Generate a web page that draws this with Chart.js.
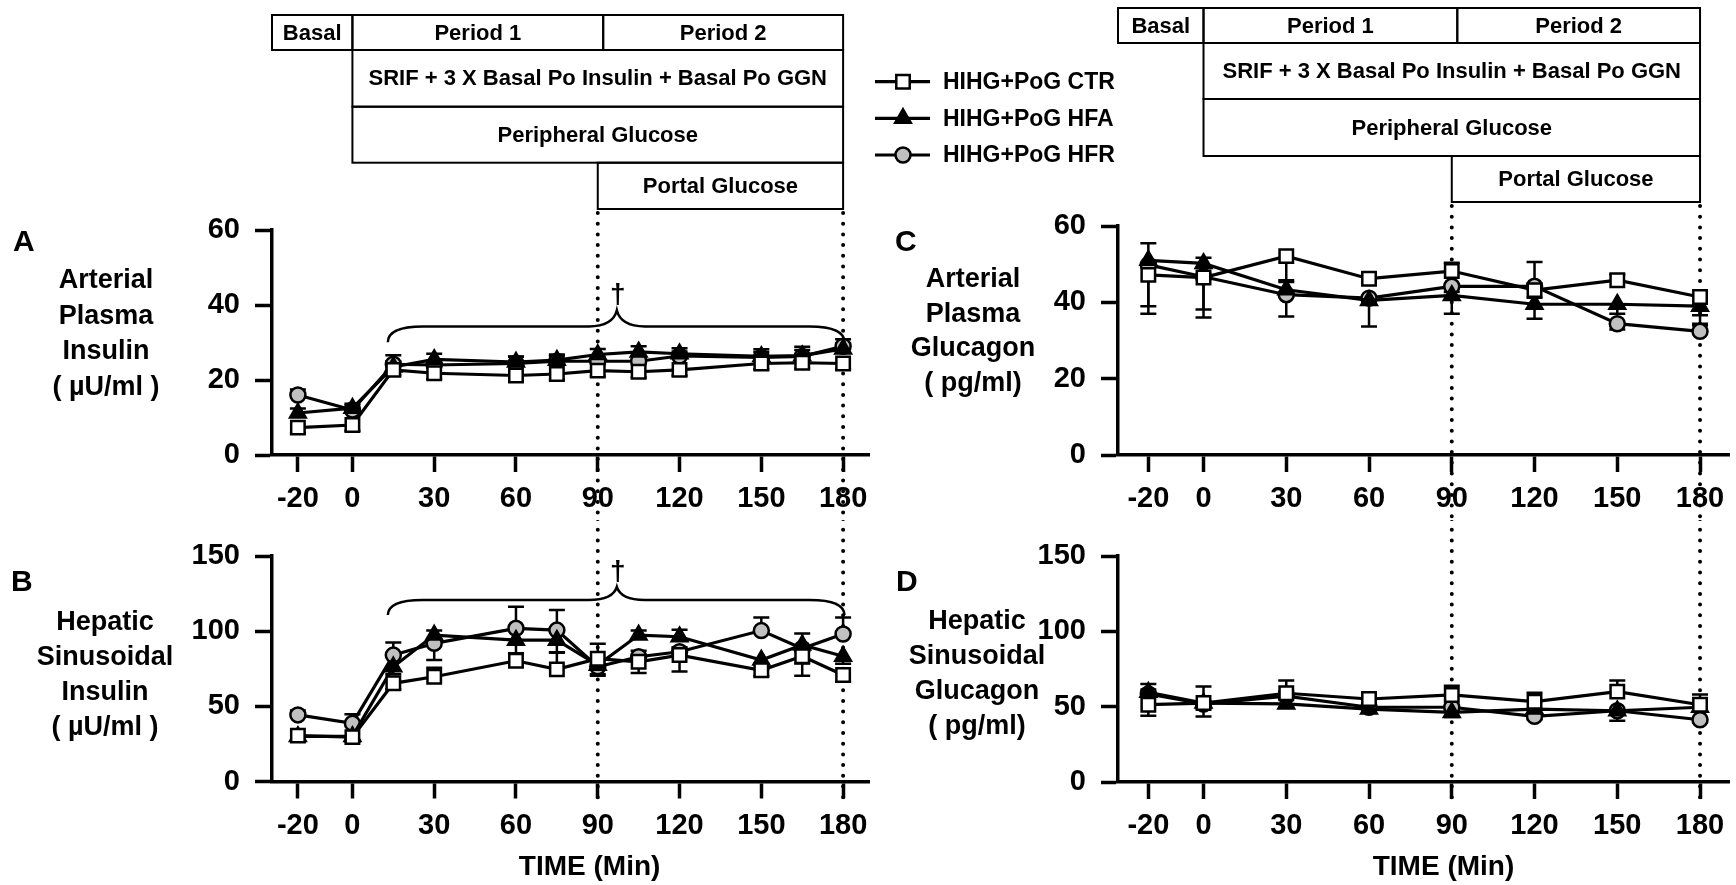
<!DOCTYPE html>
<html>
<head>
<meta charset="utf-8">
<script src="https://cdn.jsdelivr.net/npm/chart.js@4.4.1/dist/chart.umd.min.js"></script>
<style>
  html, body { margin: 0; padding: 0; background: #fff; }
  #wrap { position: relative; width: 1736px; height: 885px; overflow: hidden; background: #fff; }
  canvas { position: absolute; }
</style>
</head>
<body>
<div id="wrap">
  <canvas id="cA" width="870" height="520" style="left:0;top:0"></canvas>
  <canvas id="cB" width="870" height="365" style="left:0;top:520px"></canvas>
  <canvas id="cC" width="866" height="520" style="left:870px;top:0"></canvas>
  <canvas id="cD" width="866" height="365" style="left:870px;top:520px"></canvas>
</div>
<script>
const FONT = "'Liberation Sans', Arial, Helvetica, sans-serif";

// sampling times (min)
const timesAB = [-20, 0, 15, 30, 60, 75, 90, 105, 120, 150, 165, 180];
const timesCD = [-20, 0, 30, 60, 90, 120, 150, 180];
const xTickVals = [-20, 0, 30, 60, 90, 120, 150, 180];

const seriesLabels = ['HIHG+PoG CTR', 'HIHG+PoG HFA', 'HIHG+PoG HFR'];

// A - arterial plasma insulin (µU/ml)
const artInsCTR = [7.3, 8.0, 22.7, 21.8, 21.2, 21.6, 22.5, 22.2, 22.7, 24.4, 24.6, 24.4];
const artInsHFA = [11.2, 12.5, 23.5, 25.5, 24.8, 25.3, 26.8, 27.5, 27.0, 26.3, 26.5, 28.3];
const artInsHFR = [16.0, 12.0, 24.2, 24.0, 24.4, 25.0, 25.0, 25.0, 26.4, 26.0, 26.3, 29.0];
// SEM, sign = side the bar is drawn on
const artInsCTRerr = [-1.5, -1.5, -1.5, -1.5, -1.5, -1.5, -1.5, -1.5, -1.5, -1.5, -1.5, -1.5];
const artInsHFAerr = [1.2, 1.2, 1.5, 1.5, 1.5, 1.5, 1.5, 1.5, 1.5, 1.2, 1.5, 1.5];
const artInsHFRerr = [1.5, 1.2, 2.4, 1.2, 1.8, 1.5, 1.2, 1.2, 1.2, 2.2, 2.6, 1.9];

// B - hepatic sinusoidal insulin (µU/ml)
const sinInsCTR = [30.5, 29.5, 65.3, 69.7, 80.3, 74.6, 81.7, 79.6, 84.1, 74.0, 83.3, 70.8];
const sinInsHFA = [30.0, 30.0, 76.3, 97.4, 94.0, 94.0, 77.4, 97.4, 96.3, 80.8, 90.8, 83.3];
const sinInsHFR = [44.3, 38.7, 84.1, 91.9, 101.9, 100.7, 76.3, 83.0, 86.3, 100.4, 88.5, 98.1];
const sinInsCTRerr = [-3, -3, -4, 6, 5, 11, 10, -7.5, -11, -4, -13, -4.5];
const sinInsHFAerr = [-3, -3, -5, 3, -9, -8, -7, 3, 4.7, -6, 7.7, -5];
const sinInsHFRerr = [3, 6, 8.4, -11, 14.3, 13.3, -5, 4, 3, 8.7, -10, 11];

// C - arterial plasma glucagon (pg/ml)
const artGcgCTR = [47.2, 46.5, 52.1, 46.2, 48.2, 43.2, 45.8, 41.4];
const artGcgHFA = [51.0, 50.2, 43.3, 40.5, 41.8, 39.5, 39.5, 39.0];
const artGcgHFR = [49.8, 46.7, 42.0, 41.1, 44.2, 44.2, 34.4, 32.4];
const artGcgCTRerr = [-10.2, -10.5, -6.3, 1.5, 2.2, -2, 1.5, -7];
const artGcgHFAerr = [4.5, 1.5, 2.0, -6.8, -4.8, -3.8, -2.5, -2.4];
const artGcgHFRerr = [-10.8, -8.6, -5.7, -1.5, -1.5, 6.4, -1.5, 1.5];

// D - hepatic sinusoidal glucagon (pg/ml)
const sinGcgCTR = [51.3, 52.4, 58.9, 55.1, 57.8, 53.3, 60.0, 51.3];
const sinGcgHFA = [59.5, 52.4, 51.8, 48.4, 46.2, 48.4, 47.3, 49.6];
const sinGcgHFR = [58.4, 51.8, 57.0, 49.6, 49.6, 43.6, 47.3, 41.3];
const sinGcgCTRerr = [-7.3, 11, 8.4, 4.5, 6, 6, 7.3, 6.7];
const sinGcgHFAerr = [5.6, -9, -2, -2, -3, -3, -6.6, -3];
const sinGcgHFRerr = [3, -3, 3, -2, -2, -2, -2, -2];

// protocol bar (top of each column)
const protoLabels = ['Basal', 'Period 1', 'Period 2', 'SRIF + 3 X Basal Po Insulin + Basal Po GGN', 'Peripheral Glucose', 'Portal Glucose'];
const protoStart = [null, 0, 92, 0, 0, 90];
const protoEnd   = [0, 92, 180, 180, 180, 180];
const protoRow   = [0, 0, 0, 1, 2, 3];

const refLines = [90, 180];
const braceX = [13, 97, 180.5];        // left end, tip, right end (min)
const braceA = [34.3, 38.6, 30.1];     // bar, tip, ends (µU/ml)
const braceB = [120.8, 129.5, 110.7];

const STYLES = [
  { pointStyle: 'rect', radius: 9.5, fill: '#ffffff' },
  { pointStyle: 'triangle', radius: 9, fill: '#000000' },
  { pointStyle: 'circle', radius: 7.5, fill: '#c0c0c0' },
];

function datasets(times, vals, errs) {
  return vals.map((v, k) => ({
    label: seriesLabels[k],
    data: times.map((t, i) => ({ x: t, y: v[i] })),
    err: errs[k],
    borderColor: '#000', borderWidth: 3.2, tension: 0,
    pointStyle: STYLES[k].pointStyle, pointRadius: STYLES[k].radius,
    pointBackgroundColor: STYLES[k].fill, pointBorderColor: '#000', pointBorderWidth: 2.5,
    clip: false,
  }));
}

const errorBars = {
  id: 'errorBars',
  beforeDatasetsDraw(chart) {
    const { ctx, scales: { x, y } } = chart;
    ctx.save();
    ctx.strokeStyle = '#000'; ctx.lineWidth = 2.5;
    chart.data.datasets.forEach(ds => {
      (ds.err || []).forEach((e, i) => {
        const p = ds.data[i];
        const px = x.getPixelForValue(p.x), py = y.getPixelForValue(p.y), pe = y.getPixelForValue(p.y + e);
        ctx.beginPath();
        ctx.moveTo(px, py); ctx.lineTo(px, pe);
        ctx.moveTo(px - 8, pe); ctx.lineTo(px + 8, pe);
        ctx.stroke();
      });
    });
    ctx.restore();
  }
};

function decor(cfg) {
  return {
    id: 'decor',
    beforeDatasetsDraw(chart) {
      const { ctx, chartArea: ca, scales: { x } } = chart;
      const yTo = cfg.vTo === 'axis' ? ca.bottom + 17 : cfg.vTo;
      ctx.save();
      ctx.strokeStyle = '#000'; ctx.lineWidth = 4; ctx.lineCap = 'round';
      ctx.setLineDash([0, 10.7]);
      refLines.forEach(v => {
        const px = x.getPixelForValue(v);
        ctx.beginPath(); ctx.moveTo(px, cfg.vFrom + 4); ctx.lineTo(px, yTo); ctx.stroke();
      });
      ctx.restore();
    },
    afterDraw(chart) {
      const { ctx, chartArea: ca, scales: { x, y } } = chart;
      ctx.save();
      ctx.fillStyle = '#000'; ctx.strokeStyle = '#000';
      ctx.textBaseline = 'middle';

      ctx.font = `bold 30px ${FONT}`; ctx.textAlign = 'left';
      ctx.fillText(cfg.letter, cfg.letterX, cfg.letterY);

      ctx.font = `bold 27px ${FONT}`; ctx.textAlign = 'center';
      cfg.yTitle.forEach((t, i) => ctx.fillText(t, cfg.titleX, cfg.titleY + i * cfg.titleDy));

      if (cfg.xTitle) {
        ctx.font = `bold 28px ${FONT}`;
        ctx.fillText(cfg.xTitle, x.getPixelForValue(87), cfg.xTitleY);
      }

      if (cfg.brace) {
        const xl = x.getPixelForValue(braceX[0]), xm = x.getPixelForValue(braceX[1]), xr = x.getPixelForValue(braceX[2]);
        const yh = y.getPixelForValue(cfg.brace[0]), yt = y.getPixelForValue(cfg.brace[1]), ye = y.getPixelForValue(cfg.brace[2]);
        ctx.lineWidth = 2.5;
        ctx.beginPath();
        ctx.moveTo(xl, ye);
        ctx.quadraticCurveTo(xl, yh, xl + 35, yh);
        ctx.lineTo(xm - 28, yh);
        ctx.quadraticCurveTo(xm - 4, yh, xm, yt);
        ctx.quadraticCurveTo(xm + 4, yh, xm + 28, yh);
        ctx.lineTo(xr - 35, yh);
        ctx.quadraticCurveTo(xr, yh, xr, ye);
        ctx.stroke();
        ctx.font = `bold 28px ${FONT}`; ctx.textBaseline = 'alphabetic';
        ctx.fillText('\u2020', xm + 1, yt - 7);
        ctx.textBaseline = 'middle';
      }

      if (cfg.protoRows) {
        const r = cfg.protoRows;
        ctx.lineWidth = 2;
        ctx.font = `bold 22px ${FONT}`;
        protoLabels.forEach((lab, i) => {
          const x0 = protoStart[i] === null ? ca.left : x.getPixelForValue(protoStart[i]);
          const x1 = x.getPixelForValue(protoEnd[i]);
          const y0 = r[protoRow[i]], y1 = r[protoRow[i] + 1];
          ctx.strokeRect(x0, y0, x1 - x0, y1 - y0);
          ctx.fillText(lab, (x0 + x1) / 2, (y0 + y1) / 2 + 1);
        });
      }

      if (cfg.legend) {
        const L = cfg.legend;
        ctx.font = `bold 23px ${FONT}`; ctx.textAlign = 'left';
        seriesLabels.forEach((lab, k) => {
          const ly = L.rows[k];
          ctx.lineWidth = 3.2;
          ctx.beginPath(); ctx.moveTo(L.x0, ly); ctx.lineTo(L.x1, ly); ctx.stroke();
          ctx.fillStyle = STYLES[k].fill; ctx.lineWidth = 2.5;
          Chart.helpers.drawPoint(ctx, { pointStyle: STYLES[k].pointStyle, radius: STYLES[k].radius, borderWidth: 2.5, rotation: 0 }, L.mx, ly);
          ctx.fillStyle = '#000';
          ctx.fillText(lab, L.tx, ly + 1);
        });
      }
      ctx.restore();
    }
  };
}

function makeChart(id, box, xr, yMax, yStep, data, cfg) {
  const cv = document.getElementById(id);
  const W = cv.width, H = cv.height;
  const tickFont = { family: FONT, size: 29, weight: 'bold' };
  return new Chart(cv, {
    type: 'line',
    data: { datasets: data },
    plugins: [errorBars, decor(cfg)],
    options: {
      responsive: false, animation: false, events: [],
      layout: { autoPadding: false, padding: { top: box.top, right: W - box.right, bottom: 0, left: 0 } },
      plugins: { legend: { display: false }, tooltip: { enabled: false } },
      scales: {
        x: {
          type: 'linear', min: xr[0], max: xr[1],
          afterBuildTicks: s => { s.ticks = xTickVals.map(v => ({ value: v })); },
          afterFit: s => { s.height = H - box.bottom; s.paddingLeft = 0; s.paddingRight = 0; },
          grid: { drawOnChartArea: false, tickLength: 17, tickWidth: 3.5, tickColor: '#000' },
          border: { display: true, width: 3.5, color: '#000' },
          ticks: { font: tickFont, color: '#000', padding: 10, maxRotation: 0, autoSkip: false },
        },
        y: {
          min: 0, max: yMax,
          ticks: { stepSize: yStep, font: tickFont, color: '#000', padding: 15 },
          afterFit: s => { s.width = box.left; s.paddingTop = 0; s.paddingBottom = 0; },
          grid: { drawOnChartArea: false, tickLength: 17, tickWidth: 3.5, tickColor: '#000' },
          border: { display: true, width: 3.5, color: '#000' },
        }
      }
    }
  });
}

const xrAB = [-29.5, 189.5];
const xrCD = [-31, 190.5];

makeChart('cA', { left: 272, right: 869, top: 230, bottom: 455 }, xrAB, 60, 20,
  datasets(timesAB, [artInsCTR, artInsHFA, artInsHFR], [artInsCTRerr, artInsHFAerr, artInsHFRerr]),
  { letter: 'A', letterX: 13, letterY: 243, yTitle: ['Arterial', 'Plasma', 'Insulin', '( \u00b5U/ml )'],
    titleX: 106, titleY: 281, titleDy: 35.5, brace: braceA,
    vFrom: 209, vTo: 520, protoRows: [15, 50, 106.7, 162.7, 209] });

makeChart('cB', { left: 272, right: 869, top: 36, bottom: 261.5 }, xrAB, 150, 50,
  datasets(timesAB, [sinInsCTR, sinInsHFA, sinInsHFR], [sinInsCTRerr, sinInsHFAerr, sinInsHFRerr]),
  { letter: 'B', letterX: 11, letterY: 63, yTitle: ['Hepatic', 'Sinusoidal', 'Insulin', '( \u00b5U/ml )'],
    titleX: 105, titleY: 102.7, titleDy: 35, brace: braceB,
    xTitle: 'TIME (Min)', xTitleY: 347, vFrom: -5, vTo: 'axis' });

makeChart('cC', { left: 248, right: 859, top: 226, bottom: 455 }, xrCD, 60, 20,
  datasets(timesCD, [artGcgCTR, artGcgHFA, artGcgHFR], [artGcgCTRerr, artGcgHFAerr, artGcgHFRerr]),
  { letter: 'C', letterX: 25, letterY: 243, yTitle: ['Arterial', 'Plasma', 'Glucagon', '( pg/ml)'],
    titleX: 103, titleY: 280, titleDy: 34.5,
    vFrom: 202, vTo: 520, protoRows: [8, 43, 99, 156, 202],
    legend: { x0: 5, x1: 60, mx: 33, tx: 73, rows: [81.7, 118.3, 155] } });

makeChart('cD', { left: 248, right: 859, top: 36, bottom: 262 }, xrCD, 150, 50,
  datasets(timesCD, [sinGcgCTR, sinGcgHFA, sinGcgHFR], [sinGcgCTRerr, sinGcgHFAerr, sinGcgHFRerr]),
  { letter: 'D', letterX: 26, letterY: 63, yTitle: ['Hepatic', 'Sinusoidal', 'Glucagon', '( pg/ml)'],
    titleX: 107, titleY: 101.7, titleDy: 35,
    xTitle: 'TIME (Min)', xTitleY: 347, vFrom: -5, vTo: 'axis' });
</script>
</body>
</html>
